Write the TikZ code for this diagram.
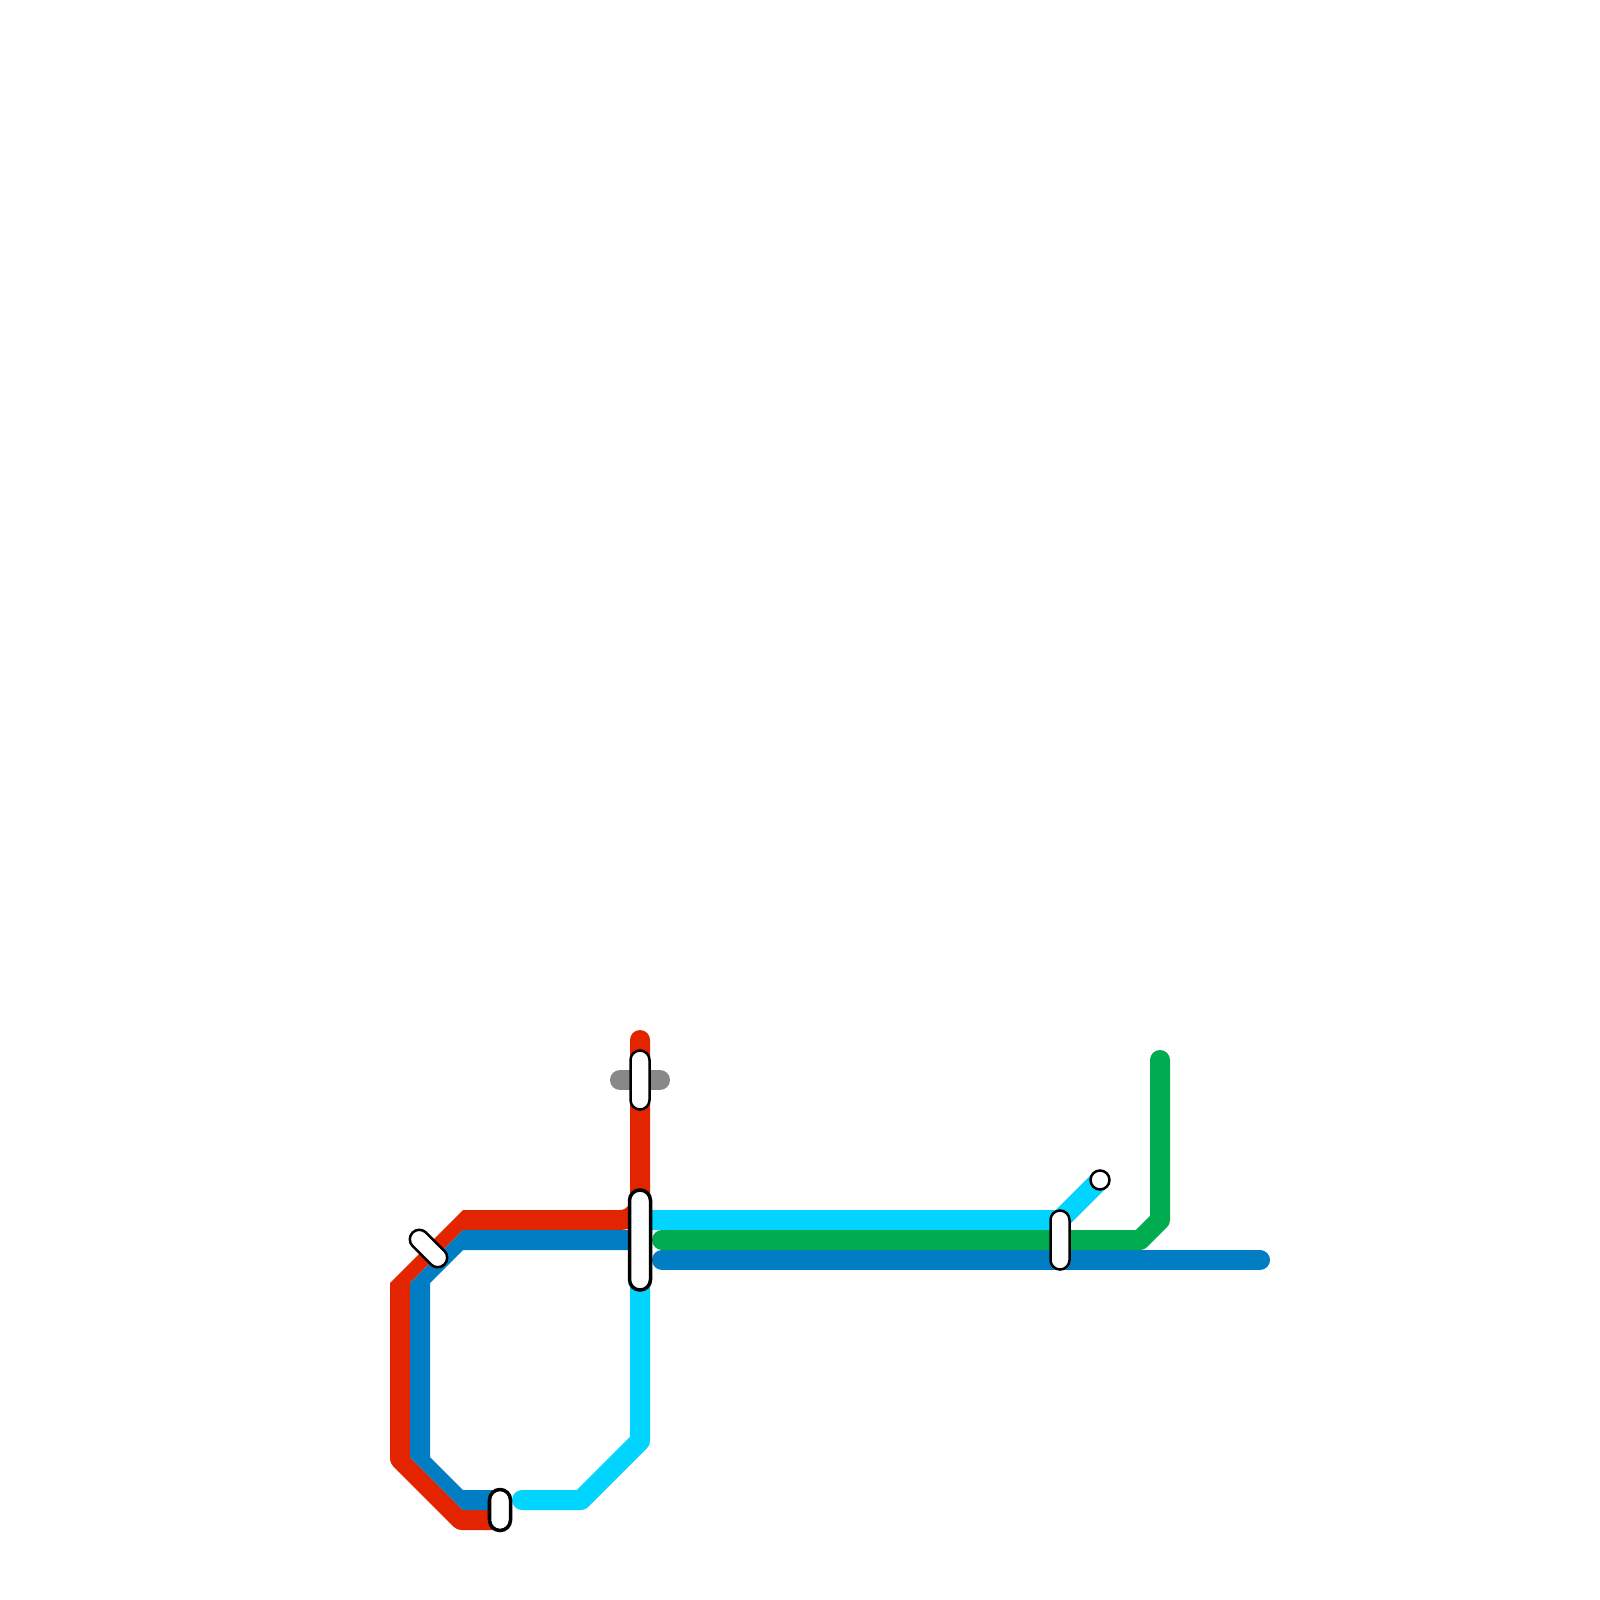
\documentclass[tikz,border=0pt]{standalone}
\usepackage{tikz}
\definecolor{RedLine}{HTML}{E32400}
\definecolor{BlueLine}{HTML}{017DC3}
\definecolor{CyanLine}{HTML}{00D4FF}
\definecolor{GreenLine}{HTML}{00AC4F}
\definecolor{GreyLine}{HTML}{888888}
\tikzset{
  route/.style={line width=0.2cm, line cap=round, line join=round},
  station/.style={draw=black, fill=white, line width=0.025cm, inner sep=0pt,
    rounded corners=0.095cm, minimum width=0.19cm},
  bigstation/.style={draw=black, fill=white, line width=0.035cm, inner sep=0pt,
    rounded corners=0.105cm, minimum width=0.21cm}
}

\begin{document}
\begin{tikzpicture}[x=0.01cm, y=-0.01cm]
  \useasboundingbox (0,0) rectangle (1600,1600);

  % Station positions
  \coordinate (North) at (640,1080);
  \coordinate (Hub)   at (640,1240);
  \coordinate (South) at (500,1510);
  \coordinate (Bend)  at (428.5,1248.5);
  \coordinate (East)  at (1060,1240);
  \coordinate (End)   at (1100,1180);

  % Grey stub
  \draw[route, GreyLine] (620,1080) -- (660,1080);

  % Red line: the bent part is filled, the diagonals are narrower
  \coordinate (R1) at (640,1040);
  \coordinate (R2) at (640,1200);
  \coordinate (R3) at (620,1220);
  \draw[route, RedLine] (R1) -- (R2) .. controls (640,1211) and (631,1220) .. (R3);
  \fill[RedLine] (390,1283) -- (463,1210) -- (620,1210) -- (620,1230) -- (463,1230)
    -- (410,1283) -- (410,1457) -- (463,1510) -- (495,1510) -- (495,1530)
    [rounded corners=0.04cm] -- (457,1530) -- (390,1463) [sharp corners] -- cycle;

  % Blue line, left part and right part
  \coordinate (B7) at (662,1260);
  \coordinate (B8) at (1260,1260);
  \fill[BlueLine] (410,1283) -- (463,1230) -- (630,1230) -- (630,1250) -- (463,1250)
    -- (430,1283) -- (430,1457) -- (463,1490) -- (495,1490) -- (495,1510)
    -- (463,1510) -- (410,1457) -- cycle;
  \draw[route, BlueLine] (B7) -- (B8);

  % Cyan line
  \coordinate (C1) at (640,1220);
  \coordinate (C2) at (1060,1220);
  \coordinate (C3) at (640,1280);
  \coordinate (C4) at (640,1441);
  \coordinate (C5) at (581,1500);
  \coordinate (C6) at (522,1500);
  \draw[route, CyanLine] (C1) -- (C2) -- (End);
  \draw[route, CyanLine] (C3) -- (C4) -- (C5) -- (C6);

  % Green line
  \coordinate (G1) at (662,1240);
  \coordinate (G2) at (1140,1240);
  \coordinate (G3) at (1160,1220);
  \coordinate (G4) at (1160,1060);
  \draw[route, GreenLine] (G1) -- (G2) -- (G3) -- (G4);

  % Stations
  \node[station, minimum height=0.59cm] (stnNorth) at (North) {};
  \node[bigstation, minimum height=1.0cm] (stnHub) at (Hub) {};
  \node[bigstation, minimum height=0.41cm] (stnSouth) at (South) {};
  \node[station, minimum height=0.45cm, rotate=45] (stnBend) at (Bend) {};
  \node[station, minimum height=0.59cm] (stnEast) at (East) {};
  \node[draw=black, fill=white, circle, line width=0.025cm, inner sep=0pt,
    minimum size=0.19cm] (stnEnd) at (End) {};
\end{tikzpicture}
\end{document}
